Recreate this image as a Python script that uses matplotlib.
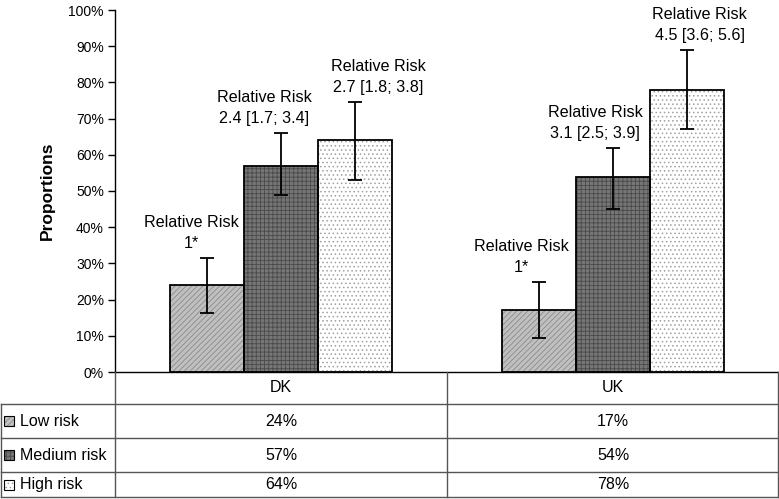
import matplotlib
matplotlib.use("Agg")
import matplotlib.pyplot as plt
from matplotlib.patches import Rectangle
from matplotlib.lines import Line2D
import numpy as np

plt.rcParams['font.family'] = ['Liberation Sans', 'DejaVu Sans']
plt.rcParams['hatch.linewidth'] = 0.6

countries = ["DK", "UK"]
series = ["Low risk", "Medium risk", "High risk"]
values = {
    "Low risk": [24, 17],
    "Medium risk": [57, 54],
    "High risk": [64, 78],
}
err_low = {
    "Low risk": [16.3, 9.4],
    "Medium risk": [49, 45],
    "High risk": [53, 67],
}
err_high = {
    "Low risk": [31.5, 25],
    "Medium risk": [66, 62],
    "High risk": [74.6, 89],
}
rr_labels = {
    "Low risk": ["Relative Risk\n1*", "Relative Risk\n1*"],
    "Medium risk": ["Relative Risk\n2.4 [1.7; 3.4]", "Relative Risk\n3.1 [2.5; 3.9]"],
    "High risk": ["Relative Risk\n2.7 [1.8; 3.8]", "Relative Risk\n4.5 [3.6; 5.6]"],
}
yticks = [0, 10, 20, 30, 40, 50, 60, 70, 80, 90, 100]

# label horizontal nudges (points), layout only
label_dx = {
    "Low risk": [-11, -13],
    "Medium risk": [-12, -13],
    "High risk": [17, 9],
}

styles = {
    "Low risk": dict(face="#c0c0c0", hatchcol="#8a8a8a", hatch="//////"),
    "Medium risk": dict(face="#767676", hatchcol="#4a4a4a", hatch="++++"),
    "High risk": dict(face="#ffffff", hatchcol="#a0a0a0", hatch="...."),
}

W, H = 779, 499
fig = plt.figure(figsize=(W / 100, H / 100), dpi=100)
ax = fig.add_axes([115 / W, 1 - 372 / H, 664 / W, 362 / H])

bw = 0.223
x = np.arange(len(countries)) + 0.5
for i, s in enumerate(series):
    xs = x + (i - 1) * bw
    st = styles[s]
    ax.bar(xs, values[s], bw, color=st["face"], edgecolor=st["hatchcol"], hatch=st["hatch"], linewidth=0, zorder=2)
    ax.bar(xs, values[s], bw, fill=False, edgecolor="black", linewidth=1.3, zorder=3)
    v = np.array(values[s], float)
    lo = v - np.array(err_low[s])
    hi = np.array(err_high[s]) - v
    ax.errorbar(xs, v, yerr=[lo, hi], fmt="none", ecolor="black", elinewidth=1.3, capsize=5, capthick=1.3, zorder=4)
    for j in range(len(countries)):
        ax.annotate(rr_labels[s][j], (xs[j], err_high[s][j]), xytext=(label_dx[s][j], 5),
                    textcoords="offset points", ha="center", va="bottom", fontsize=11.6,
                    linespacing=1.5, zorder=5)

ax.set_xlim(0, 2)
ax.set_ylim(0, 100)
ax.set_yticks(yticks)
ax.set_yticklabels([f"{t}%" for t in yticks], fontsize=10)
ax.set_xticks([])
ax.tick_params(axis="y", direction="out", length=5, width=1, pad=3)
for sp in ["top", "right"]:
    ax.spines[sp].set_visible(False)
ax.spines["left"].set_linewidth(1)
ax.spines["bottom"].set_linewidth(1)
ax.set_ylabel("Proportions", fontsize=12.5, fontweight="bold", labelpad=10)

# data table
def fx(px):
    return px / W

def fy(py):
    return 1 - py / H

lc = "#555555"
rows_y = [372, 404, 438, 472, 497]
fig.add_artist(Line2D([fx(115), fx(115)], [fy(372), fy(497)], color=lc, lw=1))
fig.add_artist(Line2D([fx(447), fx(447)], [fy(372), fy(497)], color=lc, lw=1))
fig.add_artist(Line2D([fx(778), fx(778)], [fy(372), fy(497)], color=lc, lw=1))
fig.add_artist(Line2D([fx(1), fx(1)], [fy(404), fy(497)], color=lc, lw=1))
for ry in rows_y[1:]:
    fig.add_artist(Line2D([fx(1), fx(778)], [fy(ry), fy(ry)], color=lc, lw=1))

col_centers = [281, 613]
for j, c in enumerate(countries):
    fig.text(fx(col_centers[j]), fy(388), c, ha="center", va="center", fontsize=11.5)
for i, s in enumerate(series):
    yc = (rows_y[i + 1] + rows_y[i + 2]) / 2
    st = styles[s]
    fig.add_artist(Rectangle((fx(4), fy(yc + 5)), fx(10), 10 / H, facecolor=st["face"],
                             edgecolor=st["hatchcol"], hatch=st["hatch"], lw=0))
    fig.add_artist(Rectangle((fx(4), fy(yc + 5)), fx(10), 10 / H, fill=False, edgecolor="black", lw=0.8))
    fig.text(fx(20), fy(yc), s, ha="left", va="center", fontsize=11.5)
    for j in range(len(countries)):
        fig.text(fx(col_centers[j]), fy(yc), f"{values[s][j]}%", ha="center", va="center", fontsize=11.5)

fig.savefig("out.png", dpi=100)
